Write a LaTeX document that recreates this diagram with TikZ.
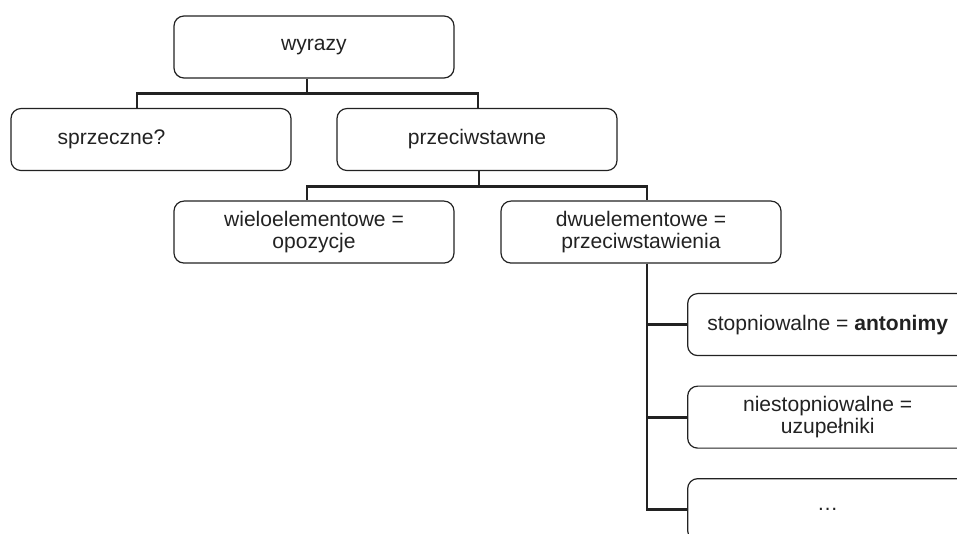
\documentclass[tikz,border=0pt]{standalone}
\usepackage{fontspec}
\setmainfont{Liberation Sans}
\usetikzlibrary{positioning}
\definecolor{ink}{HTML}{222222}
\tikzstyle{box} = [rectangle, rounded corners=7.5pt, minimum width=210pt, minimum height=46.5pt, text centered, align=center, draw=ink, line width=0.9pt, text=ink, font=\fontsize{15.8}{16}\selectfont]
\tikzstyle{link} = [line width=2.2pt, draw=ink]

\begin{document}
\begin{tikzpicture}[node distance=69.4pt]
    \useasboundingbox (-235.5pt,35.25pt) rectangle (482.25pt,-365.25pt);
    \clip (-235.5pt,35.25pt) rectangle (482.25pt,-365.25pt);
    \node (wyrazy) [box] at (0,0) {wyrazy};
    \node (sprzeczne) [box, below of=wyrazy, xshift=-122.25pt, align=left, text width=140pt, inner xsep=35pt] {sprzeczne?};
    \node (przeciw) [box, below of=wyrazy, xshift=122.25pt] {przeciwstawne};
    \node (wielo) [box, below of=przeciw, xshift=-122.25pt] {wieloelementowe =\\opozycje};
    \node (dwu) [box, below of=przeciw, xshift=123pt] {dwuelementowe =\\przeciwstawienia};
    \node (stop) [box, below of=dwu, xshift=140pt] {stopniowalne = \textbf{antonimy}};
    \node (niest) [box, below of=stop] {niestopniowalne =\\uzupełniki};
    \node (dots) [box, below of=niest] {\dots};

    \draw [link] ([xshift=-5.25pt]wyrazy.south) -- ++(0,-11.5pt) coordinate (wyrjoin);
    \draw [link] ([xshift=-10.5pt]sprzeczne.north) |- (wyrjoin) -| ([xshift=0.75pt]przeciw.north);
    \draw [link] ([xshift=1.5pt]przeciw.south) -- ++(0,-11.5pt) coordinate (prjoin);
    \draw [link] ([xshift=-5.25pt]wielo.north) |- (prjoin) -| ([xshift=4.5pt]dwu.north);
    \draw [link] ([xshift=4.5pt]dwu.south) |- (dots.west);
    \draw [link] ([xshift=4.5pt]dwu.south) |- (stop.west);
    \draw [link] ([xshift=4.5pt]dwu.south) |- (niest.west);
\end{tikzpicture}
\end{document}
